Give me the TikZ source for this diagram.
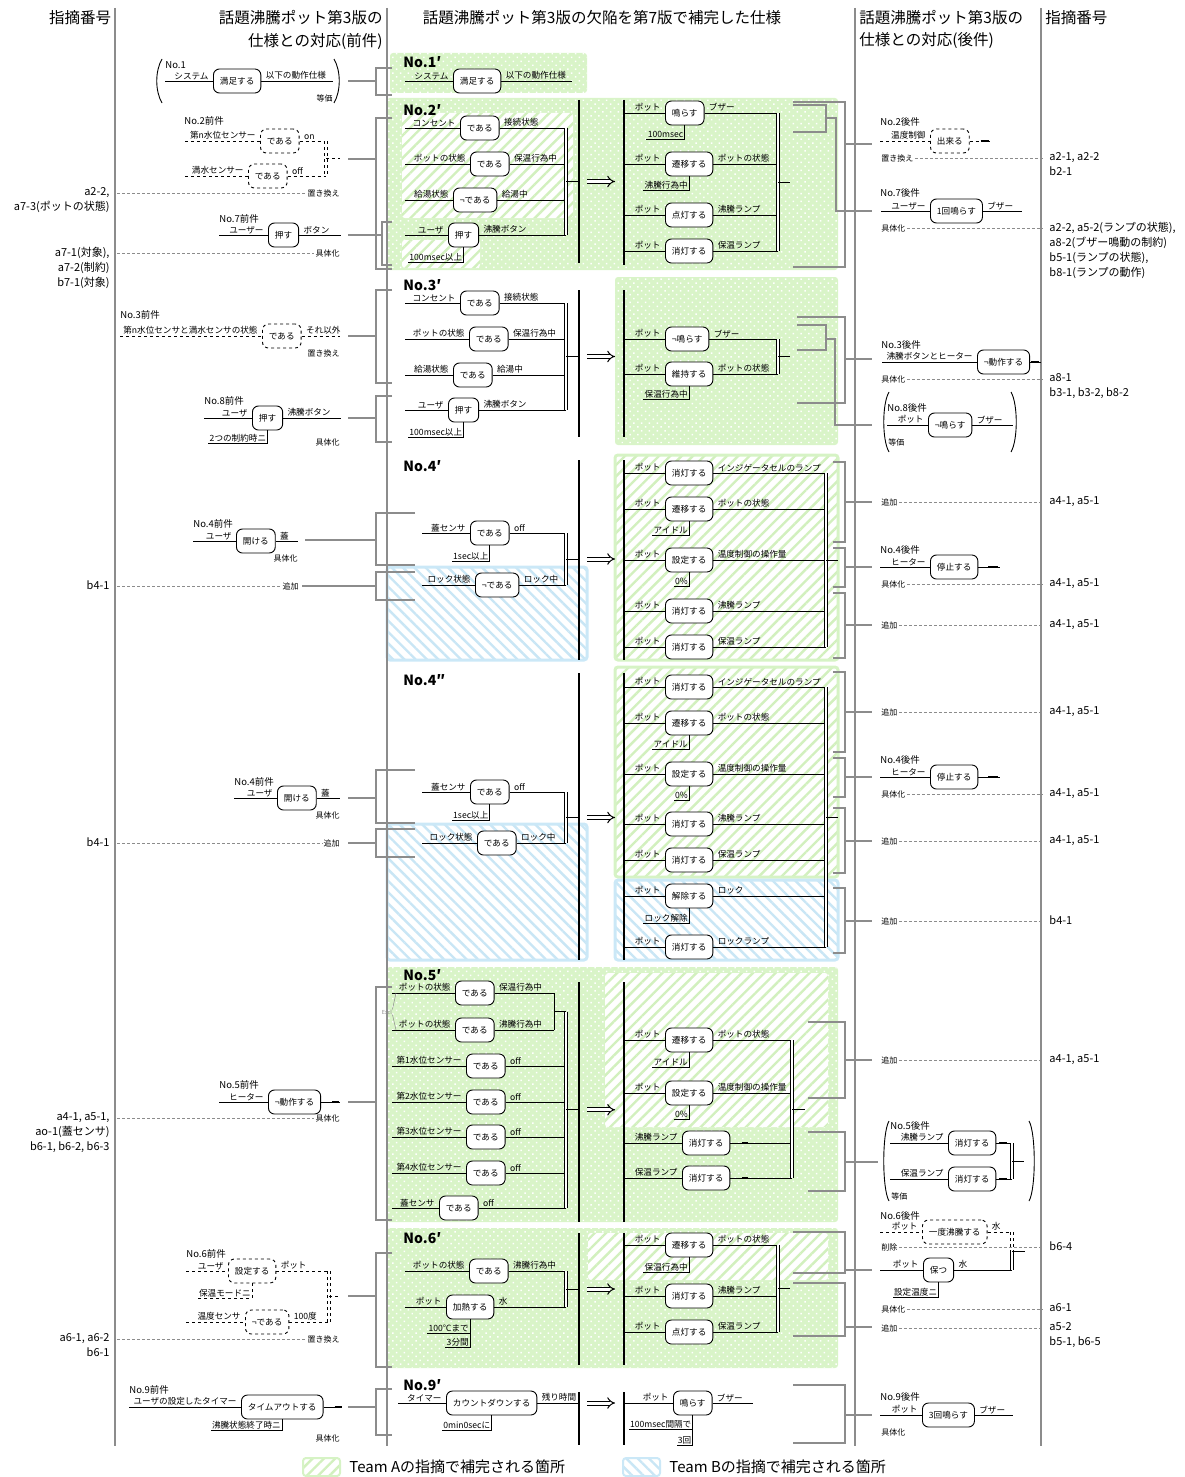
\documentclass[tikz,border=0pt]{standalone}
\usepackage{fontspec}
\setmainfont{Noto Sans CJK JP}
\usetikzlibrary{positioning,arrows.meta,calc,patterns.meta}
\definecolor{gline}{HTML}{8C8C8C}
\definecolor{teamA}{HTML}{D9F4C8}
\definecolor{hatchA}{HTML}{D2F0BE}
\definecolor{edgeA}{HTML}{D6F3C5}
\definecolor{hatchB}{HTML}{C9E6F5}
\definecolor{edgeB}{HTML}{CBE8F7}

% one relation: [style]{name}{y}{box x}{predicate}{line x0}{subject}{object}{line x1}
\newcommand\relrow[9][]{%
  \node[pred,#1,anchor=west] (#2) at (#4,#3) {#5};
  \coordinate (#2l) at (#6,#3);
  \coordinate (#2r) at (#9,#3);
  \draw[#1] (#2l) -- (#2.west) (#2.east) -- (#2r);
  \node[lbl,anchor=south east] (#2s) at ([xshift=-3pt]#2.west) {#7};
  \node[lbl,anchor=south west] (#2o) at ([xshift=3pt]#2.east) {#8};}
% condition hanging under a box: [style]{box}{name}{depth}{text}
\newcommand\condrow[5][]{%
  \node[lbl,anchor=south east] (#3) at ($(#2.south)+(0,#4)$) {#5};
  \draw[#1] (#2.south) |- (#3.south west);}
\newcommand\nilmark[3]{\draw[line width=1.5pt] ([xshift=#2pt]#1.east) -- ++(#3,0);}
\newcommand\joinrows[4][]{%
  \draw[dbl,#1] (#2) -- (#3);
  \coordinate (#4) at ($(#2)!.5!(#3)$);}
\newcommand\vbar[4]{%
  \coordinate (#1t) at (#2,#3); \coordinate (#1b) at (#2,#4);
  \draw[bar] (#1t) -- (#1b);}
% bracket: {name}{open x}{spine x}{top}{bottom}{link y}{link x}
\newcommand\brak[7]{%
  \coordinate (#1t) at (#2,#4); \coordinate (#1b) at (#2,#5);
  \coordinate (#1m) at (#3,#6); \coordinate (#1c) at (#7,#6);
  \draw[corr] (#1t) -| (#1m) |- (#1b);
  \draw[corr] (#1m) -- (#1c);}
\newcommand\lref[5]{%
  \node[kind,anchor=east] (#1k) at (#3,#2) {#4};
  \node[ref,align=right,anchor=north east] (#1i) at (110,#2-6) {#5};
  \coordinate (#1a) at (117,#2);
  \draw[idx] (#1a) -- (#1k.west);}
\newcommand\rref[4]{%
  \node[kind,anchor=west] (#1k) at (880,#2) {#3};
  \coordinate (#1a) at (1043,#2);
  \draw[idx] (#1k.east) -- (#1a);
  \node[ref,align=left,anchor=north west] (#1i) at (1049,#2-6) {#4};}
\newcommand\parens[4]{%
  \draw (#1+5,#3) .. controls (#1-2,#3+12) and (#1-2,#4-12) .. (#1+5,#4);
  \draw (#2-5,#3) .. controls (#2+2,#3+12) and (#2+2,#4-12) .. (#2-5,#4);}
\newcommand\zonedots[4]{%
  \fill[teamA,rounded corners=3pt] (#1,#2) rectangle (#3,#4);
  \fill[rounded corners=3pt,pattern={Dots[distance=5.5pt,radius=1.05pt,angle=45]},pattern color=white] (#1,#2) rectangle (#3,#4);}
\newcommand\zonehatch[7][]{%
  \fill[white,rounded corners=3pt] (#2,#3) rectangle (#4,#5);
  \fill[rounded corners=3pt,pattern={Lines[angle=#7,distance=8pt,line width=2.4pt]},pattern color=#6] (#2,#3) rectangle (#4,#5);
  \path[rounded corners=3pt,#1] (#2,#3) rectangle (#4,#5);}

\begin{document}
\begin{tikzpicture}[x=1pt,y=-1pt,line width=0.9pt,
  pred/.style={draw,fill=white,rounded corners=6pt,minimum height=24pt,inner xsep=6.5pt,font=\fontsize{8.6}{10}\selectfont},
  lbl/.style={inner sep=1pt,font=\fontsize{8.6}{9}\selectfont},
  hd/.style={inner sep=0pt,font=\fontsize{15.5}{17}\selectfont},
  num/.style={inner sep=0pt,font=\fontsize{14}{15}\selectfont\bfseries},
  tag/.style={inner sep=0pt,font=\fontsize{9.5}{10}\selectfont},
  kind/.style={inner sep=1pt,font=\fontsize{8}{9}\selectfont},
  ref/.style={inner sep=0pt,font=\fontsize{11}{15}\selectfont},
  bar/.style={line width=2.8pt},
  dbl/.style={double,double distance=2pt,line width=0.7pt},
  imp/.style={double,double distance=3pt,line width=1pt,-{Implies}},
  corr/.style={draw=gline,line width=1.3pt},
  idx/.style={draw=gline,dash pattern=on 3pt off 2pt,line width=0.8pt},
  colrule/.style={draw=gline,line width=1.3pt}
]
\useasboundingbox (0,0) rectangle (1184,1477);
% ---- coloured zones
\zonedots{390}{53}{587}{93}
\zonedots{387}{98}{838}{270}
\zonedots{615}{277}{838}{445}
\zonedots{387}{967}{838}{1222}
\zonedots{387}{1228}{838}{1368}
\zonehatch{402}{113}{573}{218}{hatchA}{45}
\zonehatch{402}{240}{480}{268}{hatchA}{45}
\zonehatch{605}{973}{828}{1127}{hatchA}{45}
\zonehatch{588}{1233}{828}{1280}{hatchA}{45}
\zonehatch[draw=edgeA,line width=3pt]{615}{455}{838}{660}{hatchA}{45}
\zonehatch[draw=edgeB,line width=3pt]{387}{567}{587}{660}{hatchB}{-45}
\zonehatch[draw=edgeA,line width=3pt]{615}{667}{838}{877}{hatchA}{45}
\zonehatch[draw=edgeB,line width=3pt]{387}{824}{587}{960}{hatchB}{-45}
\zonehatch[draw=edgeB,line width=3pt]{615}{880}{838}{960}{hatchB}{-45}
% ---- column rules and headers
\foreach \x in {115,387,855,1041} \draw[colrule] (\x,8) -- (\x,1446);
\node[hd] (hA) at (80,18) {指摘番号};
\node[hd,anchor=east] (hB1) at (383,18) {話題沸騰ポット第3版の};
\node[hd,anchor=east] (hB2) at (383,41) {仕様との対応(前件)};
\node[hd] (hC) at (602,18) {話題沸騰ポット第3版の欠陥を第7版で補完した仕様};
\node[hd,anchor=west] (hD1) at (859,18) {話題沸騰ポット第3版の};
\node[hd,anchor=west] (hD2) at (859,41) {仕様との対応(後件)};
\node[hd,anchor=west] (hE) at (1045,18) {指摘番号};

% ---- No.1
\node[tag,anchor=west] (p1n) at (165,65) {No.1};
\relrow{p1}{81}{213}{満足する}{165}{システム}{以下の動作仕様}{333}
\node[kind,anchor=east] (p1k) at (334,98) {等価};
\parens{157}{339}{59}{103}
\brak{k1}{392}{376}{68}{95}{81}{348}
\node[num,anchor=west] (a1n) at (403,62) {No.1′};
\relrow{a1}{81}{453}{満足する}{405}{システム}{以下の動作仕様}{572}

% ---- No.2 / No.7 antecedents
\node[tag,anchor=west] (p2n) at (184,121) {No.2前件};
\relrow[dashed]{p2a}{141}{260}{である}{185}{第n水位センサー}{on}{326}
\relrow[dashed]{p2b}{176}{248}{である}{185}{満水センサー}{off}{326}
\joinrows[dashed]{p2ar}{p2br}{p2m}
\draw[dashed] (p2m) -- ++(14,0);
\lref{p2x}{193}{341}{置き換え}{a2-2,\\a7-3(ポットの状態)}
\node[tag,anchor=west] (p7n) at (219,219) {No.7前件};
\relrow{p7}{235}{268}{押す}{219}{ユーザー}{ボタン}{341}
\lref{p7x}{253}{341}{具体化}{a7-1(対象),\\a7-2(制約)\\b7-1(対象)}
\brak{k2}{392}{376}{118}{269}{159}{348}
\brak{k7}{392}{382}{222}{265}{235}{348}

% ---- No.2'
\node[num,anchor=west] (a2n) at (403,110) {No.2′};
\relrow{a2a}{128}{460}{である}{405}{コンセント}{接続状態}{566}
\relrow{a2b}{164}{470}{である}{405}{ポットの状態}{保温行為中}{566}
\relrow{a2c}{200}{453}{¬である}{405}{給湯状態}{給湯中}{566}
\relrow{a2d}{235}{448}{押す}{405}{ユーザ}{沸騰ボタン}{566}
\condrow{a2d}{a2dc}{15}{100msec以上}
\joinrows{a2ar}{a2dr}{a2m}
\vbar{L2}{579}{100}{263}
\draw (a2m) -- (L2t |- a2m);
\draw[imp] (587,182 |- a2m) -- (615,182 |- a2m);
\vbar{R2}{624}{100}{265}
\foreach \n/\y/\p/\ob in {a/113/鳴らす/ブザー, b/164/遷移する/ポットの状態, c/215/点灯する/沸騰ランプ, d/251/消灯する/保温ランプ}
  {\relrow{b2\n}{\y}{665}{\p}{624}{ポット}{\ob}{778}}
\condrow{b2a}{b2ac}{14}{100msec}
\condrow{b2b}{b2bc}{14}{沸騰行為中}
\joinrows{b2ar}{b2dr}{b2m}
\draw (b2m) -- ++(12,0);
\brak{q2}{793}{845}{102}{267}{144}{872}
\coordinate (q7t) at (793,105); \coordinate (q7b) at (793,132);
\coordinate (q7m) at (826,118); \coordinate (q7c) at (872,211);
\draw[corr] (q7t) -| (q7m) |- (q7b);
\draw[corr] (q7m) -- ++(10,0) |- (q7c);

% ---- No.2 / No.7 consequents
\node[tag,anchor=west] (s2n) at (880,122) {No.2後件};
\relrow[dashed]{s2}{141}{930}{出来る}{880}{温度制御}{}{990}
\nilmark{s2}{11}{8}
\rref{s2x}{158}{置き換え}{a2-1, a2-2\\b2-1}
\node[tag,anchor=west] (s7n) at (880,193) {No.7後件};
\relrow{s7}{211}{930}{1回鳴らす}{881}{ユーザー}{ブザー}{1022}
\rref{s7x}{228}{具体化}{a2-2, a5-2(ランプの状態),\\a8-2(ブザー鳴動の制約)\\b5-1(ランプの状態),\\b8-1(ランプの動作)}

% ---- No.3 / No.8 antecedents
\node[tag,anchor=west] (p3n) at (120,315) {No.3前件};
\relrow[dashed]{p3}{336}{262}{である}{120}{第n水位センサと満水センサの状態}{それ以外}{340}
\node[kind,anchor=east] (p3k) at (341,353) {置き換え};
\brak{k3}{392}{376}{290}{383}{336}{348}
\node[tag,anchor=west] (p8n) at (204,401) {No.8前件};
\relrow{p8}{418}{252}{押す}{204}{ユーザ}{沸騰ボタン}{341}
\condrow{p8}{p8c}{13}{2つの制約時ニ}
\node[kind,anchor=east] (p8k) at (341,442) {具体化};
\brak{k8}{392}{376}{396}{442}{418}{348}

% ---- No.3'
\node[num,anchor=west] (a3n) at (403,285) {No.3′};
\relrow{a3a}{303}{460}{である}{405}{コンセント}{接続状態}{566}
\relrow{a3b}{339}{469}{である}{405}{ポットの状態}{保温行為中}{566}
\relrow{a3c}{375}{453}{である}{405}{給湯状態}{給湯中}{566}
\relrow{a3d}{410}{448}{押す}{405}{ユーザ}{沸騰ボタン}{566}
\condrow{a3d}{a3dc}{15}{100msec以上}
\joinrows{a3ar}{a3dr}{a3m}
\vbar{L3}{579}{290}{437}
\draw (a3m) -- (L3t |- a3m);
\draw[imp] (587,357 |- a3m) -- (615,357 |- a3m);
\vbar{R3}{624}{290}{437}
\relrow{b3a}{339}{665}{¬鳴らす}{624}{ポット}{ブザー}{778}
\relrow{b3b}{374}{665}{維持する}{624}{ポット}{ポットの状態}{778}
\condrow{b3b}{b3bc}{13}{保温行為中}
\joinrows{b3ar}{b3br}{b3m}
\draw (b3m) -- ++(12,0);
\brak{q3}{797}{845}{317}{403}{359}{872}
\coordinate (q8t) at (797,325); \coordinate (q8b) at (797,350);
\coordinate (q8m) at (826,339); \coordinate (q8c) at (872,425);
\draw[corr] (q8t) -| (q8m) |- (q8b);
\draw[corr] (q8m) -- ++(9,0) |- (q8c);

% ---- No.3 / No.8 consequents
\node[tag,anchor=west] (s3n) at (881,345) {No.3後件};
\relrow{s3}{362}{977}{¬動作する}{882}{沸騰ボタンとヒーター}{}{1041}
\nilmark{s3}{1}{8}
\rref{s3x}{379}{具体化}{a8-1\\b3-1, b3-2, b8-2}
\parens{884}{1016}{392}{452}
\node[tag,anchor=west] (s8n) at (887,408) {No.8後件};
\relrow{s8}{425}{928}{¬鳴らす}{887}{ポット}{ブザー}{1013}
\node[kind,anchor=west] (s8k) at (887,442) {等価};

% ---- No.4 antecedents
\node[tag,anchor=west] (p4n) at (193,524) {No.4前件};
\relrow{p4}{541}{236}{開ける}{193}{ユーザ}{蓋}{298}
\node[kind,anchor=east] (p4k) at (299,558) {具体化};
\brak{k4}{415}{376}{513}{565}{540}{305}
\lref{p4x}{586}{300}{追加}{b4-1}
\brak{k4b}{415}{376}{572}{600}{586}{302}
\node[tag,anchor=west] (pp4n) at (234,782) {No.4前件};
\relrow{pp4}{798}{277}{開ける}{234}{ユーザ}{蓋}{340}
\node[kind,anchor=east] (pp4k) at (341,815) {具体化};
\brak{k4c}{415}{376}{770}{823}{798}{348}
\lref{pp4x}{843}{341}{追加}{b4-1}
\brak{k4d}{415}{376}{829}{857}{843}{348}

% ---- No.4'
\node[num,anchor=west] (a4n) at (403,466) {No.4′};
\relrow{a4a}{533}{470}{である}{422}{蓋センサ}{off}{566}
\condrow{a4a}{a4ac}{16}{1sec以上}
\relrow{a4b}{585}{475}{¬である}{422}{ロック状態}{ロック中}{566}
\joinrows{a4ar}{a4br}{a4m}
\vbar{L4}{579}{460}{660}
\draw (a4m) -- (L4t |- a4m);
\draw[imp] (587,559 |- a4m) -- (615,559 |- a4m);
\vbar{R4}{624}{460}{660}
\foreach \n/\y/\p/\ob in {a/473/消灯する/インジゲータセルのランプ, b/509/遷移する/ポットの状態, c/560/設定する/温度制御の操作量, d/611/消灯する/沸騰ランプ, e/647/消灯する/保温ランプ}
  {\relrow{b4\n}{\y}{665}{\p}{624}{ポット}{\ob}{826}}
\condrow{b4b}{b4bc}{14}{アイドル}
\condrow{b4c}{b4cc}{14}{0\%}
\joinrows{b4ar}{b4er}{b4m}
\draw (b4m) -- ++(12,0);
\brak{q4a}{833}{845}{462}{542}{502}{872}
\brak{q4b}{833}{845}{548}{587}{567}{872}
\brak{q4c}{833}{845}{593}{658}{625}{872}
\rref{s4x1}{502}{追加}{a4-1, a5-1}
\node[tag,anchor=west] (s4n) at (880,550) {No.4後件};
\relrow{s4}{567}{930}{停止する}{880}{ヒーター}{}{1000}
\nilmark{s4}{10}{10}
\rref{s4x2}{584}{具体化}{a4-1, a5-1}
\rref{s4x3}{625}{追加}{a4-1, a5-1}

% ---- No.4''
\node[num,anchor=west] (c4n) at (403,680) {No.4″};
\relrow{c4a}{792}{470}{である}{422}{蓋センサ}{off}{566}
\condrow{c4a}{c4ac}{16}{1sec以上}
\relrow{c4b}{843}{477}{である}{422}{ロック状態}{ロック中}{566}
\joinrows{c4ar}{c4br}{c4m}
\vbar{L44}{579}{673}{960}
\draw (c4m) -- (L44t |- c4m);
\draw[imp] (587,817 |- c4m) -- (615,817 |- c4m);
\vbar{R44}{624}{673}{960}
\foreach \n/\y/\p/\ob in {a/687/消灯する/インジゲータセルのランプ, b/723/遷移する/ポットの状態, c/774/設定する/温度制御の操作量, d/824/消灯する/沸騰ランプ, e/860/消灯する/保温ランプ, f/896/解除する/ロック, g/947/消灯する/ロックランプ}
  {\relrow{d4\n}{\y}{665}{\p}{624}{ポット}{\ob}{826}}
\condrow{d4b}{d4bc}{14}{アイドル}
\condrow{d4c}{d4cc}{14}{0\%}
\condrow{d4f}{d4fc}{15}{ロック解除}
\joinrows{d4ar}{d4gr}{d4m}
\draw (d4m) -- ++(12,0);
\brak{q4d}{833}{845}{672}{752}{712}{872}
\brak{q4e}{833}{845}{758}{797}{777}{872}
\brak{q4f}{833}{845}{808}{873}{841}{872}
\brak{q4g}{833}{845}{888}{953}{921}{872}
\rref{t4x1}{712}{追加}{a4-1, a5-1}
\node[tag,anchor=west] (t4n) at (880,760) {No.4後件};
\relrow{t4}{777}{930}{停止する}{880}{ヒーター}{}{1000}
\nilmark{t4}{10}{10}
\rref{t4x2}{794}{具体化}{a4-1, a5-1}
\rref{t4x3}{841}{追加}{a4-1, a5-1}
\rref{t4x4}{921}{追加}{b4-1}

% ---- No.5
\node[tag,anchor=west] (p5n) at (219,1085) {No.5前件};
\relrow{p5}{1102}{268}{¬動作する}{219}{ヒーター}{}{340}
\nilmark{p5}{11}{7}
\lref{p5x}{1118}{341}{具体化}{a4-1, a5-1,\\ao-1(蓋センサ)\\b6-1, b6-2, b6-3}
\brak{k5}{392}{376}{987}{1220}{1102}{348}
\node[num,anchor=west] (a5n) at (403,975) {No.5′};
\relrow{a5a}{993}{455}{である}{392}{ポットの状態}{保温行為中}{554}
\relrow{a5b}{1030}{455}{である}{392}{ポットの状態}{沸騰行為中}{554}
\draw (a5ar) -- (a5br);
\coordinate (a5ab) at ($(a5ar)!.5!(a5br)$);
\coordinate (a5j) at (566,0 |- a5ab);
\draw (a5ab) -- (a5j);
\node[inner sep=0pt,text=gline,font=\fontsize{5.5}{6}\selectfont] (excl) at (387,1012) {Excl};
\draw[gline,line width=0.5pt] (excl.north east) -- ([xshift=4pt]a5al);
\draw[gline,line width=0.5pt] (excl.south east) -- ([xshift=4pt]a5bl);
\foreach \n/\y/\sb in {c/1066/第1水位センサー, d/1102/第2水位センサー, e/1137/第3水位センサー, f/1173/第4水位センサー}
  {\relrow{a5\n}{\y}{466}{である}{392}{\sb}{off}{566}}
\relrow{a5g}{1208}{439}{である}{392}{蓋センサ}{off}{566}
\joinrows{a5j}{a5gr}{a5m}
\vbar{L5}{579}{982}{1222}
\draw (a5m) -- (L5t |- a5m);
\draw[imp] (587,1110 |- a5m) -- (615,1110 |- a5m);
\vbar{R5}{624}{982}{1222}
\relrow{b5a}{1040}{665}{遷移する}{624}{ポット}{ポットの状態}{792}
\condrow{b5a}{b5ac}{15}{アイドル}
\relrow{b5b}{1093}{665}{設定する}{624}{ポット}{温度制御の操作量}{792}
\condrow{b5b}{b5bc}{14}{0\%}
\relrow{b5c}{1143}{682}{消灯する}{624}{沸騰ランプ}{}{792}
\nilmark{b5c}{12}{6}
\relrow{b5d}{1178}{682}{消灯する}{624}{保温ランプ}{}{792}
\nilmark{b5d}{12}{6}
\joinrows{b5ar}{b5dr}{b5m}
\draw (b5m) -- ++(13,0);
\brak{q5a}{808}{845}{1022}{1098}{1060}{872}
\brak{q5b}{808}{845}{1132}{1191}{1162}{878}
\rref{s5x}{1060}{追加}{a4-1, a5-1}
\parens{884}{1034}{1121}{1201}
\node[tag,anchor=west] (s5n) at (890,1126) {No.5後件};
\relrow{s5a}{1143}{948}{消灯する}{890}{沸騰ランプ}{}{1012}
\relrow{s5b}{1179}{948}{消灯する}{890}{保温ランプ}{}{1012}
\nilmark{s5a}{3}{8}
\nilmark{s5b}{3}{8}
\joinrows{s5ar}{s5br}{s5m}
\draw (s5m) -- ++(12,0);
\node[kind,anchor=west] (s5k) at (890,1196) {等価};

% ---- No.6
\node[tag,anchor=west] (p6n) at (186,1254) {No.6前件};
\relrow[dashed]{p6a}{1271}{228}{設定する}{186}{ユーザ}{ポット}{329}
\condrow[dashed]{p6a}{p6ac}{15}{保温モードニ}
\relrow[dashed]{p6b}{1322}{245}{¬である}{186}{温度センサ}{100度}{329}
\joinrows[dashed]{p6ar}{p6br}{p6m}
\draw[dashed] (p6m) -- ++(12,0);
\lref{p6x}{1339}{341}{置き換え}{a6-1, a6-2\\b6-1}
\brak{k6}{392}{376}{1253}{1367}{1296}{348}
\node[num,anchor=west] (a6n) at (403,1238) {No.6′};
\relrow{a6a}{1271}{469}{である}{405}{ポットの状態}{沸騰行為中}{566}
\relrow{a6b}{1307}{446}{加熱する}{405}{ポット}{水}{566}
\condrow{a6b}{a6bc}{14}{100℃まで}
\condrow{a6b}{a6bd}{28}{3分間}
\joinrows{a6ar}{a6br}{a6m}
\vbar{L6}{579}{1233}{1365}
\draw (a6m) -- (L6t |- a6m);
\draw[imp] (587,1289 |- a6m) -- (615,1289 |- a6m);
\vbar{R6}{624}{1233}{1365}
\relrow{b6a}{1245}{665}{遷移する}{624}{ポット}{ポットの状態}{778}
\condrow{b6a}{b6ac}{15}{保温行為中}
\relrow{b6b}{1296}{665}{消灯する}{624}{ポット}{沸騰ランプ}{778}
\relrow{b6c}{1332}{665}{点灯する}{624}{ポット}{保温ランプ}{778}
\joinrows{b6ar}{b6cr}{b6m}
\draw (b6m) -- ++(12,0);
\brak{q6a}{793}{845}{1232}{1273}{1270}{872}
\brak{q6b}{793}{845}{1283}{1336}{1327}{872}
\node[tag,anchor=west] (s6n) at (880,1216) {No.6後件};
\relrow[dashed]{s6a}{1232}{922}{一度沸騰する}{880}{ポット}{水}{1012}
\relrow{s6b}{1270}{923}{保つ}{880}{ポット}{水}{1012}
\condrow{s6b}{s6bc}{15}{設定温度ニ}
\coordinate (s6m) at ($(s6ar)!.5!(s6br)$);
\draw[dbl,dashed] (s6ar) -- (s6m);
\draw[dbl] (s6m) -- (s6br);
\draw (s6m) -- ++(13,0);
\rref{s6x1}{1247}{削除}{b6-4}
\rref{s6x2}{1309}{具体化}{a6-1}
\rref{s6x3}{1328}{追加}{a5-2\\b5-1, b6-5}

% ---- No.9
\node[tag,anchor=west] (p9n) at (129,1390) {No.9前件};
\relrow{p9}{1407}{241}{タイムアウトする}{129}{ユーザの設定したタイマー}{}{340}
\nilmark{p9}{11}{7}
\condrow{p9}{p9c}{11}{沸騰状態終了時ニ}
\node[kind,anchor=east] (p9k) at (341,1438) {具体化};
\brak{k9}{392}{376}{1389}{1435}{1407}{348}
\node[num,anchor=west] (a9n) at (403,1385) {No.9′};
\relrow{a9}{1403}{446}{カウントダウンする}{398}{タイマー}{残り時間}{579}
\condrow{a9}{a9c}{15}{0min0secに}
\vbar{L9}{579}{1392}{1445}
\draw[imp] (587,1403 |- a9r) -- (615,1403 |- a9r);
\vbar{R9}{624}{1392}{1445}
\relrow{b9}{1403}{673}{鳴らす}{624}{ポット}{ブザー}{753}
\condrow{b9}{b9c}{14}{100msec間隔で}
\condrow{b9}{b9d}{30}{3回}
\brak{q9}{793}{845}{1385}{1443}{1415}{872}
\node[tag,anchor=west] (s9n) at (880,1397) {No.9後件};
\relrow{s9}{1415}{922}{3回鳴らす}{880}{ポット}{ブザー}{1013}
\node[kind,anchor=west] (s9k) at (880,1432) {具体化};

% ---- legend
\zonehatch[draw=edgeA,line width=2pt]{303}{1458}{340}{1476}{hatchA}{45}
\node[anchor=west,inner sep=0pt,font=\fontsize{15}{16}\selectfont] (legA) at (349,1467) {Team Aの指摘で補完される箇所};
\zonehatch[draw=edgeB,line width=2pt]{623}{1458}{660}{1476}{hatchB}{-45}
\node[anchor=west,inner sep=0pt,font=\fontsize{15}{16}\selectfont] (legB) at (669,1467) {Team Bの指摘で補完される箇所};
\end{tikzpicture}
\end{document}
